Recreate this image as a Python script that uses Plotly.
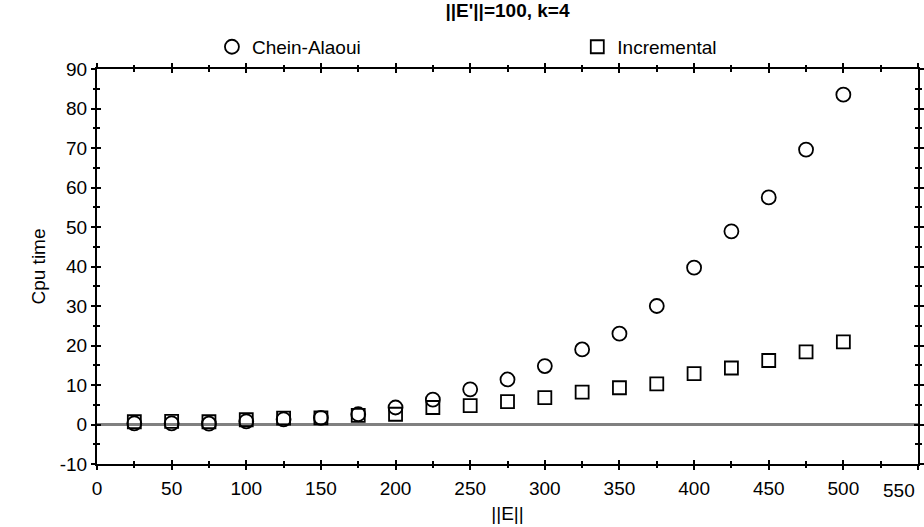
import plotly.graph_objects as go

x_vals = [25, 50, 75, 100, 125, 150, 175, 200, 225, 250, 275, 300, 325, 350, 375, 400, 425, 450, 475, 500]
chein_alaoui = [0.3, 0.3, 0.2, 0.8, 1.3, 1.7, 2.6, 4.3, 6.3, 8.9, 11.4, 14.8, 19.0, 23.0, 30.0, 39.7, 48.9, 57.5, 69.6, 83.5]
incremental = [0.7, 0.8, 0.7, 1.2, 1.6, 1.7, 2.3, 2.6, 4.3, 4.8, 5.8, 6.8, 8.2, 9.3, 10.3, 12.9, 14.3, 16.2, 18.4, 20.9]

x_ticks = [0, 50, 100, 150, 200, 250, 300, 350, 400, 450, 500, 550]
y_ticks = [-10, 0, 10, 20, 30, 40, 50, 60, 70, 80, 90]

title_text = "||E'||=100, k=4"
x_title = "||E||"
y_title = "Cpu time"

FONT = "Liberation Sans, Arial, sans-serif"
FS = 19

# the last x tick label is drawn right-aligned (as in the reference) so it fits the page
x_ticktext = [str(v) for v in x_ticks[:-1]] + [""]
last_x_label = str(x_ticks[-1])

fig = go.Figure()
fig.add_trace(go.Scatter(
    x=x_vals, y=chein_alaoui, mode="markers", name="Chein-Alaoui", legend="legend",
    marker=dict(symbol="circle-open", size=14, color="black", line=dict(width=1.8, color="black")),
))
fig.add_trace(go.Scatter(
    x=x_vals, y=incremental, mode="markers", name="Incremental", legend="legend2",
    marker=dict(symbol="square-open", size=13, color="black", line=dict(width=1.8, color="black")),
))
# invisible trace on overlay axes (for inward tick marks)
fig.add_trace(go.Scatter(x=[x_ticks[0]], y=[y_ticks[0]], xaxis="x2", yaxis="y2", mode="markers",
                         marker=dict(opacity=0), showlegend=False, hoverinfo="skip"))

fig.add_shape(type="line", xref="paper", x0=0, x1=1, yref="y", y0=0, y1=0,
              line=dict(color="#808080", width=3), layer="below")

fig.add_annotation(x=x_ticks[-1], xref="x", y=0, yref="paper", text=last_x_label,
                   showarrow=False, xanchor="right", yanchor="top", xshift=-1, yshift=-14,
                   font=dict(size=FS, family=FONT, color="black"))

fig.update_layout(
    width=924, height=527,
    margin=dict(l=97, r=6, t=69, b=63, autoexpand=False),
    paper_bgcolor="white", plot_bgcolor="white",
    font=dict(family=FONT, size=FS, color="black"),
    title=dict(text="<b>" + title_text + "</b>", x=0.5, xref="paper", y=0.981, yref="container",
               yanchor="middle", xanchor="center", font=dict(size=FS, family=FONT)),
    legend=dict(orientation="h", x=0.140, xanchor="left", y=1.056, yanchor="middle",
                font=dict(size=FS, family=FONT), itemwidth=30, bgcolor="rgba(0,0,0,0)"),
    legend2=dict(orientation="h", x=0.585, xanchor="left", y=1.056, yanchor="middle",
                 font=dict(size=FS, family=FONT), itemwidth=30, bgcolor="rgba(0,0,0,0)"),
    showlegend=True,
)

common = dict(showgrid=False, zeroline=False, showline=True, linecolor="black", linewidth=2,
              tickcolor="black", automargin=False)

fig.update_layout(
    xaxis=dict(
        range=[0, 550], tickvals=x_ticks, ticktext=x_ticktext,
        mirror="ticks", ticks="outside", ticklen=4, tickwidth=1.5,
        minor=dict(dtick=25, tick0=0, ticks="outside", ticklen=2, tickwidth=1.5, tickcolor="black"),
        title=dict(text=x_title, standoff=9, font=dict(size=FS, color="black")),
        tickfont=dict(size=FS), ticklabelstandoff=2, ticklabeloverflow="allow", **common,
    ),
    yaxis=dict(
        range=[-10, 90], tickvals=y_ticks, ticktext=[str(v) for v in y_ticks],
        mirror="ticks", ticks="outside", ticklen=4, tickwidth=1.5,
        minor=dict(dtick=5, tick0=-10, ticks="outside", ticklen=2, tickwidth=1.5, tickcolor="black"),
        title=dict(text=y_title, standoff=9, font=dict(size=FS, color="black")),
        tickfont=dict(size=FS), ticklabeloverflow="allow", **common,
    ),
    xaxis2=dict(
        range=[0, 550], overlaying="x", tickvals=x_ticks, showticklabels=False,
        mirror="ticks", ticks="inside", ticklen=4, tickwidth=1.5,
        minor=dict(dtick=25, tick0=0, ticks="inside", ticklen=3, tickwidth=1.5, tickcolor="black"),
        **common,
    ),
    yaxis2=dict(
        range=[-10, 90], overlaying="y", tickvals=y_ticks, showticklabels=False,
        mirror="ticks", ticks="inside", ticklen=4, tickwidth=1.5,
        minor=dict(dtick=5, tick0=-10, ticks="inside", ticklen=3, tickwidth=1.5, tickcolor="black"),
        **common,
    ),
)

fig.write_html("out.html")
